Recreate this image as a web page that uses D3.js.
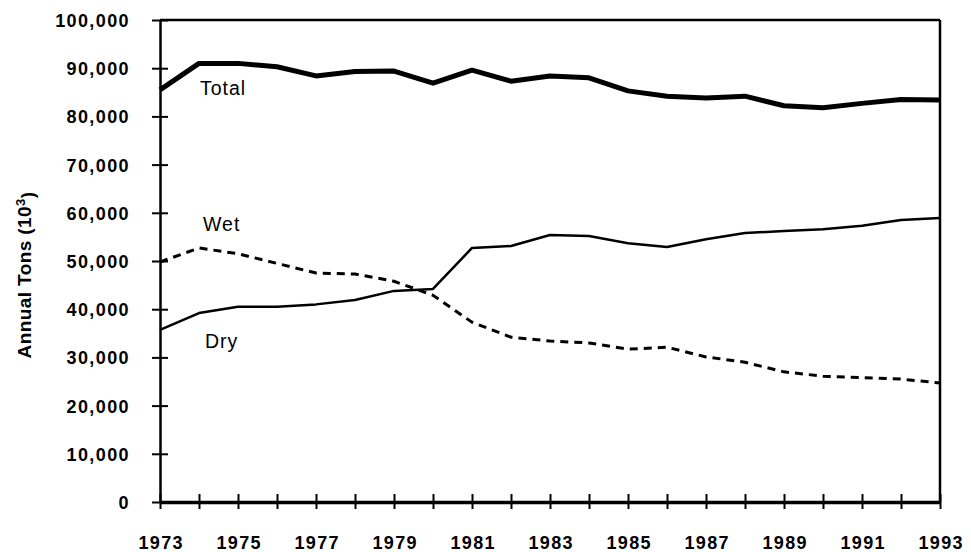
<!DOCTYPE html>
<html lang="en">
<head>
<meta charset="utf-8">
<title>Annual Tons</title>
<script src="https://d3js.org/d3.v7.min.js"></script>
<style>
  body { margin: 0; background: #fff; }
  svg text { font-family: "Liberation Sans", Arial, sans-serif; fill: #000; }
  .tick-label { font-size: 18px; font-weight: bold; letter-spacing: 1.4px; }
  .series-label { font-size: 19.5px; letter-spacing: 1px; }
  .axis-title { font-size: 19px; font-weight: bold; letter-spacing: 0.4px; }
</style>
</head>
<body>
<div id="chart"></div>
<script>
// data (thousands of tons)
var years = d3.range(1973, 1994);
var total = [85500, 91000, 91000, 90300, 88400, 89300, 89400, 86900, 89600, 87300, 88400, 88000,
             85300, 84200, 83800, 84200, 82200, 81800, 82700, 83500, 83400];
var wet   = [49800, 52700, 51500, 49500, 47500, 47300, 45800, 42900, 37300, 34200, 33400, 33000,
             31700, 32100, 30100, 29000, 27000, 26100, 25800, 25500, 24700];
var dry   = [35700, 39200, 40500, 40500, 41000, 41900, 43800, 44200, 52700, 53100, 55400, 55200,
             53700, 52900, 54500, 55800, 56200, 56600, 57300, 58500, 58900];
var yTicks = [0, 10000, 20000, 30000, 40000, 50000, 60000, 70000, 80000, 90000, 100000];
var xLabels = [1973, 1975, 1977, 1979, 1981, 1983, 1985, 1987, 1989, 1991, 1993];

var W = 971, H = 552;
var margin = {top: 20, right: 31, bottom: 50, left: 160};
var width = W - margin.left - margin.right,
    height = H - margin.top - margin.bottom;

var svg = d3.select("#chart").append("svg")
    .attr("width", W).attr("height", H)
  .append("g")
    .attr("transform", "translate(" + margin.left + "," + margin.top + ")");

var x = d3.scaleLinear().domain([1973, 1993]).range([0, width]);
var y = d3.scaleLinear().domain([0, 100000]).range([height, 0]);

// frame: top and right
svg.append("line").attr("x1", 0).attr("x2", width).attr("y1", 0).attr("y2", 0)
  .attr("stroke", "#000").attr("stroke-width", 2.5);
svg.append("line").attr("x1", width).attr("x2", width).attr("y1", 0).attr("y2", height)
  .attr("stroke", "#000").attr("stroke-width", 2.5);

// Y axis
var yAxis = svg.append("g")
  .call(d3.axisLeft(y).tickValues(yTicks).tickSize(8).tickSizeOuter(0).tickFormat(d3.format(",")));
yAxis.select(".domain").attr("stroke-width", 2.5);
yAxis.selectAll(".tick line").attr("x2", 8).attr("x1", -8).attr("stroke-width", 2);
yAxis.selectAll(".tick text").attr("class", "tick-label").attr("x", -30).attr("dy", "0.36em");

// X axis
var xAxis = svg.append("g")
  .attr("transform", "translate(0," + height + ")")
  .call(d3.axisBottom(x).tickValues(years).tickSize(8).tickSizeOuter(0)
    .tickFormat(function(d) { return xLabels.indexOf(d) >= 0 ? d : ""; }));
xAxis.select(".domain").attr("stroke-width", 3.5);
xAxis.selectAll(".tick line").attr("y1", -8).attr("y2", 7).attr("stroke-width", 2);
xAxis.selectAll(".tick text").attr("class", "tick-label").attr("y", 47).attr("dy", "0")
  .attr("dx", "0.7px");

// Lines
var line = function(vals) {
  return d3.line().x(function(d, i) { return x(years[i]); }).y(function(d) { return y(d); })(vals);
};
svg.append("path").attr("d", line(wet)).attr("fill", "none").attr("stroke", "#000")
  .attr("stroke-width", 3).attr("stroke-dasharray", "8,6");
svg.append("path").attr("d", line(dry)).attr("fill", "none").attr("stroke", "#000")
  .attr("stroke-width", 2.5).attr("stroke-linejoin", "round");
svg.append("path").attr("d", line(total)).attr("fill", "none").attr("stroke", "#000")
  .attr("stroke-width", 5).attr("stroke-linejoin", "round");

// series labels
svg.append("text").attr("class", "series-label").attr("x", 40).attr("y", y(84500)).text("Total");
svg.append("text").attr("class", "series-label").attr("x", 43).attr("y", y(56300)).text("Wet");
svg.append("text").attr("class", "series-label").attr("x", 45).attr("y", y(32000)).text("Dry");

// Y axis title
var yt = svg.append("text").attr("class", "axis-title")
  .attr("transform", "translate(" + (-129) + "," + 255 + ") rotate(-90)")
  .style("text-anchor", "middle");
yt.append("tspan").text("Annual Tons (10");
yt.append("tspan").attr("dy", "-0.45em").style("font-size", "13px").text("3");
yt.append("tspan").attr("dy", "0.45em").text(")");
</script>
</body>
</html>
